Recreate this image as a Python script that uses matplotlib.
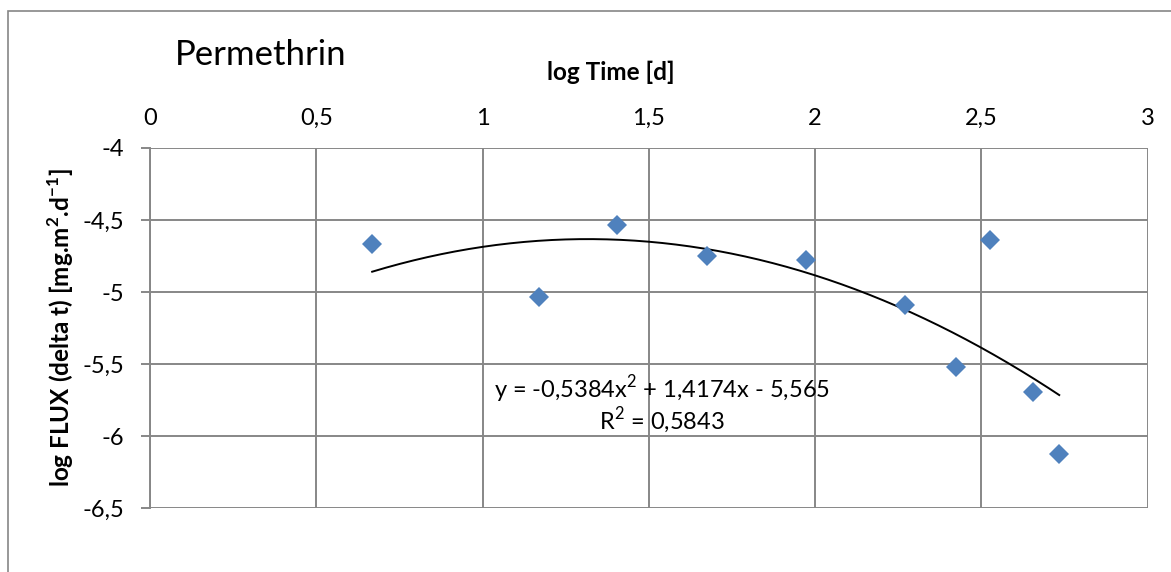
import numpy as np
import matplotlib.pyplot as plt
from matplotlib.patches import Rectangle

plt.rcParams['font.family'] = ['Lato', 'DejaVu Sans']
plt.rcParams['mathtext.fontset'] = 'custom'
plt.rcParams['mathtext.rm'] = 'Lato'
plt.rcParams['mathtext.bf'] = 'Lato:bold'

# log time [d] and log flux
log_time = [0.668, 1.170, 1.405, 1.675, 1.972, 2.270, 2.423, 2.526, 2.655, 2.734]
log_flux = [-4.666, -5.036, -4.536, -4.747, -4.777, -5.092, -5.518, -4.641, -5.695, -6.124]
#Trendline coefficients as shown on the chart
trend_coef = [-0.5384, 1.4174, -5.565]
r_squared = 0.5843

x_ticks = [0, 0.5, 1, 1.5, 2, 2.5, 3]
y_ticks = [-4, -4.5, -5, -5.5, -6, -6.5]

def comma(v):
    return ('%g' % v).replace('.', ',')

W, H = 1171, 572
fig = plt.figure(figsize=(W/100, H/100), dpi=100)
ax = fig.add_axes([150/W, 1-508.3/H, (1147.7-150)/W, (508.3-148)/H])

grid_col = '#878787'
ax.set_xlim(0, 3)
ax.set_ylim(-6.5, -4)
ax.set_xticks(x_ticks)
ax.set_yticks(y_ticks)
ax.set_xticklabels([comma(v) for v in x_ticks])
ax.set_yticklabels([comma(v) for v in y_ticks])
ax.xaxis.tick_top()
ax.tick_params(axis='x', length=0, pad=14, labelsize=17)
ax.tick_params(axis='y', length=6.5, width=1.4, color=grid_col, pad=12, labelsize=17)
ax.grid(True, color=grid_col, linewidth=1.4)
ax.set_axisbelow(True)
for s in ['top', 'right', 'bottom']:
    ax.spines[s].set_visible(False)
ax.spines['left'].set_color(grid_col)
ax.spines['left'].set_linewidth(1.4)

fig.text(611/W, 1-72/H, 'log Time [d]', ha='center', va='center',
         fontsize=17.5, fontweight='bold')
fig.text(61/W, 1-328/H, r'log FLUX (delta t) [mg.m$^{\mathbf{2}}$.d$^{\mathbf{-1}}$]',
         ha='center', va='center', rotation=90, fontsize=17.5, fontweight='bold')

# fitted 2nd order polynomial trendline over the data range
xs = np.linspace(min(log_time), max(log_time), 200)
ax.plot(xs, np.polyval(trend_coef, xs), color='black', linewidth=1.4, zorder=3)

ax.plot(log_time, log_flux, linestyle='none', marker='D', markersize=9.8,
        color='#4F81BD', markeredgewidth=0, zorder=4)

eq1 = 'y = %sx$^{2}$ + %sx - %s' % (comma(trend_coef[0]), comma(trend_coef[1]),
                                   comma(-trend_coef[2]))
eq2 = 'R$^{2}$ = %s' % comma(r_squared)
fig.text(662/W, 1-389/H, eq1, ha='center', va='center', fontsize=17)
fig.text(662/W, 1-421/H, eq2, ha='center', va='center', fontsize=17)

fig.text(175/W, 1-55/H, 'Permethrin', ha='left', va='center', fontsize=25)

fig.patches.append(Rectangle((8/W, -0.1), 1.2, 1-11/H+0.1, transform=fig.transFigure,
                             fill=False, edgecolor='#868686', linewidth=1.2))

fig.savefig('out.png', dpi=100)
